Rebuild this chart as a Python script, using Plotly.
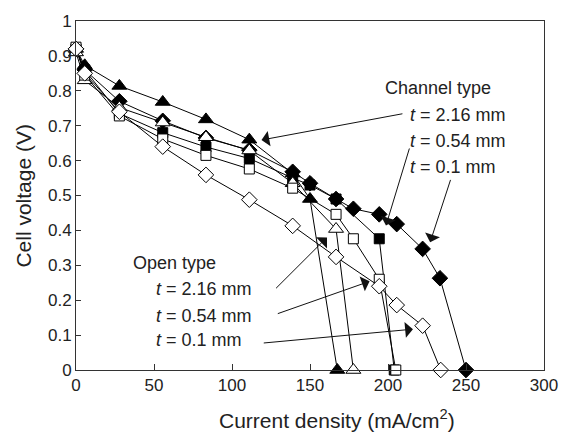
import plotly.graph_objects as go

# Channel type (filled markers)
ch216_x = [0, 5.6, 27.8, 55.6, 83.3, 111.1, 138.9, 150.0, 167.5]
ch216_y = [0.92, 0.873, 0.814, 0.768, 0.718, 0.66, 0.563, 0.49, 0]

ch054_x = [0, 5.6, 27.8, 55.6, 83.3, 111.1, 138.9, 150.0, 166.7, 194.4, 204.0]
ch054_y = [0.92, 0.86, 0.735, 0.68, 0.639, 0.606, 0.55, 0.53, 0.49, 0.376, 0]

ch01_x = [0, 5.6, 27.8, 55.6, 83.3, 111.1, 138.9, 150.0, 166.7, 177.8, 194.4, 205.6, 222.2, 233.3, 250.0]
ch01_y = [0.92, 0.86, 0.77, 0.714, 0.665, 0.63, 0.568, 0.535, 0.49, 0.462, 0.446, 0.418, 0.347, 0.263, 0]

# Open type (hollow markers)
op216_x = [0, 5.6, 27.8, 55.6, 83.3, 111.1, 138.9, 166.7, 177.8]
op216_y = [0.91, 0.83, 0.752, 0.709, 0.667, 0.629, 0.535, 0.404, 0]

op054_x = [0, 5.6, 27.8, 55.6, 83.3, 111.1, 138.9, 166.7, 177.8, 194.4, 205.0]
op054_y = [0.925, 0.845, 0.728, 0.662, 0.615, 0.576, 0.521, 0.446, 0.376, 0.26, 0]

op01_x = [0, 5.6, 27.8, 55.6, 83.3, 111.1, 138.9, 166.7, 194.4, 205.6, 222.2, 233.8]
op01_y = [0.92, 0.85, 0.74, 0.64, 0.559, 0.488, 0.413, 0.324, 0.24, 0.186, 0.127, 0]

x_ticks = [0, 50, 100, 150, 200, 250, 300]
y_ticks = [0, 0.1, 0.2, 0.3, 0.4, 0.5, 0.6, 0.7, 0.8, 0.9, 1]
y_tick_text = ["0", "0.1", "0.2", "0.3", "0.4", "0.5", "0.6", "0.7", "0.8", "0.9", "1"]

FONT = "Arial, 'Liberation Sans', sans-serif"
INK = "#222222"

fig = go.Figure()

def add(x, y, symbol, size, fill):
    fig.add_trace(go.Scatter(
        x=x, y=y, mode="lines+markers",
        line=dict(color="black", width=1),
        marker=dict(symbol=symbol, size=size, color=fill,
                    line=dict(color="black", width=1)),
        showlegend=False, cliponaxis=False))

add(ch216_x, ch216_y, "triangle-up", 13, "black")
add(ch054_x, ch054_y, "square", 10, "black")
add(ch01_x, ch01_y, "diamond", 12, "black")
add(op216_x, op216_y, "triangle-up", 13, "white")
add(op054_x, op054_y, "square", 10, "white")
add(op01_x, op01_y, "diamond", 12, "white")

anns = []
def label(x, y, text):
    anns.append(dict(x=x, y=y, xref="x", yref="y", text=text, showarrow=False,
                     xanchor="left", yanchor="middle",
                     font=dict(family=FONT, size=18, color=INK)))

def arrow(x0, y0, x1, y1):
    anns.append(dict(x=x1, y=y1, ax=x0, ay=y0, xref="x", yref="y",
                     axref="x", ayref="y", text="", showarrow=True,
                     arrowhead=1, arrowsize=2.6, arrowwidth=1,
                     arrowcolor="#111111", standoff=0, startstandoff=0))

label(197.0, 0.808, "Channel type")
label(212.7, 0.732, "<i>t</i> = 2.16 mm")
label(212.7, 0.656, "<i>t</i> = 0.54 mm")
label(212.7, 0.583, "<i>t</i> = 0.1 mm")
label(35.5, 0.308, "Open type")
label(50.2, 0.231, "<i>t</i> = 2.16 mm")
label(50.2, 0.155, "<i>t</i> = 0.54 mm")
label(50.2, 0.085, "<i>t</i> = 0.1 mm")

arrow(210.2, 0.735, 118.9, 0.659)
arrow(214.0, 0.639, 198.7, 0.414)
arrow(240.4, 0.549, 227.0, 0.366)
arrow(127.3, 0.230, 160.9, 0.380)
arrow(128.4, 0.160, 188.2, 0.254)
arrow(119.4, 0.077, 216.0, 0.117)

# axis titles
anns.append(dict(x=0.557, y=-0.141, xref="paper", yref="paper",
                 text="Current density (mA/cm<sup>2</sup>)", showarrow=False,
                 xanchor="center", yanchor="middle",
                 font=dict(family=FONT, size=21, color=INK)))
anns.append(dict(x=-0.113, y=0.5, xref="paper", yref="paper",
                 text="Cell voltage (V)", showarrow=False, textangle=-90,
                 xanchor="center", yanchor="middle",
                 font=dict(family=FONT, size=21, color=INK)))

fig.update_layout(
    width=570, height=435,
    margin=dict(l=76, r=17, t=15, b=65),
    paper_bgcolor="white", plot_bgcolor="white",
    font=dict(family=FONT, size=17, color=INK),
    annotations=anns,
    xaxis=dict(range=[0, 300], tickvals=x_ticks, ticks="inside", ticklen=6,
               tickcolor="#333333", showline=True, linecolor="#333333", linewidth=1,
               mirror=True, showgrid=False, zeroline=False),
    yaxis=dict(range=[0, 1], tickvals=y_ticks, ticktext=y_tick_text, ticks="inside",
               ticklen=5, tickcolor="#333333", showline=True, linecolor="#333333",
               linewidth=1, mirror=True, showgrid=False, zeroline=False),
)

fig.write_html("out.html")
